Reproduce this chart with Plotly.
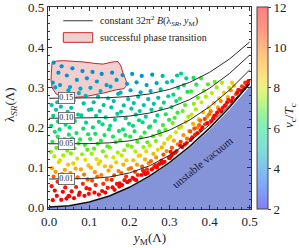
import plotly.graph_objects as go

SERIF = "Liberation Serif, DejaVu Serif, serif"

# ---------------- data ----------------
ym_grid = [0.0, 0.05, 0.10, 0.15, 0.20, 0.25, 0.30, 0.35, 0.40, 0.45, 0.50]
lam_B015 = [0.2720, 0.2721, 0.2723, 0.2735, 0.2765, 0.2829, 0.2941, 0.3116, 0.3368, 0.3703, 0.4127]
lam_B010 = [0.2220, 0.2221, 0.2224, 0.2238, 0.2274, 0.2350, 0.2482, 0.2685, 0.2970, 0.3341, 0.3799]
lam_B005 = [0.1581, 0.1581, 0.1586, 0.1605, 0.1654, 0.1754, 0.1923, 0.2173, 0.2508, 0.2927, 0.3428]
lam_B001 = [0.0700, 0.0701, 0.0711, 0.0751, 0.0851, 0.1029, 0.1293, 0.1637, 0.2057, 0.2546, 0.3102]
lam_edge = [0.0, 0.0031, 0.0123, 0.0277, 0.0493, 0.0771, 0.1110, 0.1510, 0.1973, 0.2497, 0.3083]
lam_vac = [0.0, 0.0030, 0.0120, 0.0271, 0.0482, 0.0753, 0.1084, 0.1475, 0.1926, 0.2438, 0.3010]

blob_ym = [0.0067, 0.0174, 0.0356, 0.0647, 0.0896, 0.1144, 0.1343, 0.1567, 0.1716, 0.1791, 0.1841,
           0.1915, 0.1940, 0.1866, 0.1642, 0.1393, 0.1144, 0.0896, 0.0597, 0.0348, 0.0174, 0.0075,
           0.0045, 0.0050, 0.0067]
blob_lam = [0.359, 0.365, 0.366, 0.365, 0.3625, 0.359, 0.3575, 0.3625, 0.364, 0.3525, 0.335,
            0.3175, 0.305, 0.296, 0.2925, 0.286, 0.281, 0.276, 0.274, 0.275, 0.2825, 0.2975,
            0.3175, 0.3425, 0.359]

contour_labels = ["0.15", "0.10", "0.05", "0.01"]
label_ym = 0.0436
label_lam = [0.272, 0.222, 0.158, 0.070]

cbar_ticks = [2, 4, 6, 8, 10, 12]

ym_pts = [
    0.011, 0.023, 0.009, 0.015, 0.020, 0.006, 0.017, 0.010, 0.022, 0.005, 0.014, 0.021, 0.008, 0.018, 0.004, 0.013, 0.024, 0.007, 0.016, 0.011, 0.021, 0.006, 0.014, 0.019, 0.009,
    0.031, 0.044, 0.027, 0.048, 0.036, 0.029, 0.046, 0.033, 0.041, 0.026, 0.049, 0.038, 0.030, 0.045, 0.035, 0.027, 0.047, 0.039, 0.032, 0.044, 0.028, 0.040, 0.034, 0.048, 0.030, 0.043,
    0.058, 0.069, 0.052, 0.074, 0.061, 0.055, 0.072, 0.064, 0.051, 0.068, 0.057, 0.073, 0.063, 0.054, 0.070, 0.060, 0.066, 0.053, 0.071, 0.059, 0.067, 0.056, 0.074, 0.062, 0.050,
    0.083, 0.094, 0.078, 0.091, 0.086, 0.099, 0.080, 0.092, 0.085, 0.097, 0.077, 0.089, 0.095, 0.082, 0.090, 0.098, 0.079, 0.087, 0.096, 0.084, 0.093, 0.076, 0.088, 0.099,
    0.108, 0.119, 0.103, 0.122, 0.111, 0.105, 0.117, 0.124, 0.109, 0.115, 0.102, 0.121, 0.112, 0.106, 0.118, 0.123, 0.104, 0.114, 0.120, 0.107, 0.116, 0.101, 0.113, 0.124,
    0.131, 0.143, 0.128, 0.147, 0.136, 0.126, 0.141, 0.133, 0.149, 0.138, 0.129, 0.145, 0.134, 0.142, 0.127, 0.139, 0.148, 0.130, 0.144, 0.135, 0.146, 0.132, 0.140,
    0.157, 0.168, 0.153, 0.172, 0.161, 0.155, 0.170, 0.164, 0.152, 0.174, 0.159, 0.166, 0.151, 0.171, 0.160, 0.167, 0.154, 0.173, 0.162, 0.156, 0.169, 0.158, 0.175, 0.163,
    0.183, 0.194, 0.178, 0.197, 0.186, 0.179, 0.191, 0.199, 0.184, 0.190, 0.177, 0.196, 0.187, 0.181, 0.193, 0.185, 0.198, 0.180, 0.192, 0.188, 0.176, 0.195, 0.182,
    0.207, 0.218, 0.203, 0.222, 0.211, 0.205, 0.216, 0.224, 0.209, 0.213, 0.202, 0.220, 0.206, 0.215, 0.223, 0.210, 0.219, 0.204, 0.214, 0.221, 0.208, 0.217, 0.212, 0.201,
    0.231, 0.243, 0.228, 0.247, 0.236, 0.226, 0.241, 0.233, 0.249, 0.238, 0.229, 0.245, 0.235, 0.242, 0.227, 0.239, 0.248, 0.232, 0.244, 0.237, 0.230, 0.246, 0.240, 0.234,
    0.257, 0.268, 0.253, 0.272, 0.261, 0.255, 0.270, 0.264, 0.252, 0.274, 0.259, 0.266, 0.251, 0.271, 0.260, 0.267, 0.254, 0.273, 0.262, 0.256, 0.269, 0.265,
    0.283, 0.294, 0.278, 0.297, 0.286, 0.279, 0.291, 0.299, 0.284, 0.290, 0.277, 0.296, 0.287, 0.281, 0.293, 0.285, 0.298, 0.280, 0.282, 0.288, 0.276,
    0.304, 0.309, 0.318, 0.306, 0.321, 0.311, 0.302, 0.316, 0.324, 0.308, 0.313, 0.320, 0.305, 0.317, 0.310, 0.322, 0.307, 0.301, 0.314, 0.303, 0.319,
    0.332, 0.338, 0.328, 0.344, 0.335, 0.349, 0.330, 0.341, 0.347, 0.333, 0.339, 0.326, 0.345, 0.336, 0.342, 0.327, 0.343, 0.329,
    0.353, 0.357, 0.364, 0.352, 0.369, 0.359, 0.373, 0.355, 0.366, 0.361, 0.371, 0.354, 0.367, 0.360, 0.370, 0.362, 0.374,
    0.378, 0.382, 0.389, 0.377, 0.394, 0.384, 0.398, 0.380, 0.391, 0.386, 0.396, 0.379, 0.395, 0.388, 0.399,
    0.404, 0.409, 0.416, 0.403, 0.421, 0.411, 0.424, 0.406, 0.418, 0.413, 0.419, 0.424, 0.412,
    0.429, 0.433, 0.441, 0.428, 0.446, 0.436, 0.449, 0.431, 0.444, 0.438, 0.447,
    0.454, 0.458, 0.466, 0.453, 0.461, 0.469, 0.472, 0.456,
    0.479, 0.486, 0.493, 0.481, 0.489, 0.497,
]
lam_pts = [
    0.361, 0.336, 0.311, 0.299, 0.262, 0.255, 0.243, 0.228, 0.214, 0.203, 0.188, 0.176, 0.163, 0.148, 0.138, 0.127, 0.112, 0.097, 0.088, 0.076, 0.063, 0.052, 0.041, 0.028, 0.017,
    0.352, 0.329, 0.305, 0.292, 0.270, 0.251, 0.238, 0.221, 0.206, 0.194, 0.181, 0.170, 0.156, 0.141, 0.129, 0.117, 0.106, 0.093, 0.082, 0.071, 0.060, 0.049, 0.038, 0.027, 0.018, 0.021,
    0.347, 0.318, 0.300, 0.285, 0.266, 0.248, 0.231, 0.215, 0.199, 0.185, 0.172, 0.159, 0.147, 0.134, 0.121, 0.109, 0.096, 0.085, 0.074, 0.062, 0.050, 0.039, 0.030, 0.022, 0.027,
    0.340, 0.322, 0.296, 0.278, 0.259, 0.243, 0.229, 0.211, 0.196, 0.182, 0.169, 0.155, 0.143, 0.132, 0.118, 0.104, 0.094, 0.081, 0.069, 0.058, 0.047, 0.036, 0.028, 0.033,
    0.338, 0.314, 0.298, 0.276, 0.262, 0.244, 0.228, 0.213, 0.199, 0.183, 0.170, 0.158, 0.146, 0.133, 0.120, 0.108, 0.098, 0.087, 0.076, 0.066, 0.055, 0.045, 0.036, 0.031,
    0.333, 0.305, 0.290, 0.272, 0.255, 0.240, 0.224, 0.207, 0.194, 0.180, 0.166, 0.152, 0.139, 0.127, 0.114, 0.102, 0.091, 0.080, 0.069, 0.058, 0.048, 0.040, 0.036,
    0.336, 0.318, 0.301, 0.283, 0.265, 0.249, 0.233, 0.218, 0.203, 0.190, 0.176, 0.162, 0.149, 0.136, 0.124, 0.112, 0.101, 0.090, 0.079, 0.068, 0.058, 0.049, 0.051, 0.043,
    0.330, 0.308, 0.286, 0.270, 0.254, 0.238, 0.222, 0.208, 0.194, 0.180, 0.167, 0.154, 0.142, 0.129, 0.117, 0.106, 0.095, 0.085, 0.076, 0.067, 0.059, 0.062, 0.055,
    0.333, 0.312, 0.292, 0.276, 0.260, 0.246, 0.231, 0.217, 0.203, 0.189, 0.176, 0.163, 0.151, 0.139, 0.128, 0.117, 0.106, 0.097, 0.088, 0.080, 0.073, 0.067, 0.070, 0.066,
    0.328, 0.305, 0.287, 0.270, 0.255, 0.240, 0.226, 0.212, 0.199, 0.186, 0.174, 0.162, 0.150, 0.139, 0.129, 0.119, 0.110, 0.101, 0.094, 0.087, 0.080, 0.085, 0.082, 0.091,
    0.331, 0.310, 0.290, 0.273, 0.258, 0.243, 0.229, 0.215, 0.202, 0.189, 0.177, 0.165, 0.154, 0.143, 0.133, 0.124, 0.115, 0.107, 0.100, 0.094, 0.099, 0.104,
    0.328, 0.312, 0.294, 0.277, 0.261, 0.246, 0.232, 0.218, 0.205, 0.193, 0.181, 0.170, 0.159, 0.149, 0.140, 0.131, 0.123, 0.116, 0.110, 0.113, 0.108,
    0.127, 0.133, 0.140, 0.148, 0.157, 0.166, 0.176, 0.187, 0.198, 0.210, 0.223, 0.236, 0.250, 0.265, 0.281, 0.298, 0.315, 0.122, 0.136, 0.138, 0.329,
    0.150, 0.156, 0.163, 0.171, 0.180, 0.190, 0.201, 0.213, 0.226, 0.240, 0.255, 0.271, 0.288, 0.305, 0.322, 0.153, 0.160, 0.334,
    0.168, 0.174, 0.181, 0.189, 0.198, 0.208, 0.219, 0.231, 0.244, 0.258, 0.273, 0.289, 0.306, 0.323, 0.185, 0.196, 0.205,
    0.192, 0.199, 0.207, 0.216, 0.226, 0.237, 0.249, 0.262, 0.276, 0.291, 0.307, 0.322, 0.210, 0.220, 0.232,
    0.215, 0.222, 0.230, 0.239, 0.249, 0.260, 0.272, 0.285, 0.299, 0.313, 0.236, 0.243, 0.228,
    0.240, 0.248, 0.256, 0.265, 0.275, 0.286, 0.298, 0.311, 0.262, 0.253, 0.268,
    0.265, 0.273, 0.282, 0.292, 0.303, 0.286, 0.293, 0.311,
    0.291, 0.298, 0.306, 0.302, 0.311, 0.315,
]
v_pts = [
    4.2, 4.3, 4.4, 4.5, 5.0, 5.1, 5.2, 5.6, 5.8, 5.9, 6.2, 6.4, 6.7, 7.1, 7.4, 7.8, 8.3, 9.0, 9.4, 10.2, 11.0, 11.6, 12, 12, 12,
    4.2, 4.3, 4.5, 4.6, 4.9, 5.1, 5.3, 5.6, 5.9, 6.0, 6.3, 6.5, 6.8, 7.3, 7.7, 8.1, 8.6, 9.2, 9.9, 10.5, 11.1, 11.7, 12, 12, 12, 12,
    4.2, 4.4, 4.6, 4.8, 5.0, 5.2, 5.5, 5.7, 6.0, 6.2, 6.4, 6.8, 7.0, 7.4, 8.0, 8.4, 9.1, 9.6, 10.1, 10.8, 11.5, 12, 12, 12, 12,
    4.2, 4.4, 4.6, 4.9, 5.1, 5.3, 5.5, 5.8, 6.1, 6.3, 6.5, 6.9, 7.1, 7.5, 8.0, 8.7, 9.2, 9.9, 10.4, 11.0, 11.6, 12, 12, 12,
    4.2, 4.4, 4.6, 4.9, 5.1, 5.3, 5.5, 5.8, 6.0, 6.3, 6.5, 6.8, 7.1, 7.5, 8.0, 8.4, 9.0, 9.5, 10.0, 10.6, 11.2, 11.8, 12, 12,
    4.2, 4.5, 4.7, 5.0, 5.2, 5.4, 5.6, 5.9, 6.1, 6.3, 6.6, 7.0, 7.3, 7.7, 8.2, 8.7, 9.3, 9.8, 10.4, 11.0, 11.6, 12, 12,
    4.2, 4.4, 4.6, 4.8, 5.0, 5.2, 5.5, 5.7, 6.0, 6.2, 6.4, 6.7, 7.1, 7.6, 8.0, 8.6, 9.0, 9.8, 10.4, 11.2, 11.8, 12, 12, 12,
    4.3, 4.5, 4.8, 5.0, 5.2, 5.4, 5.7, 5.9, 6.1, 6.4, 6.8, 7.1, 7.5, 7.9, 8.5, 9.0, 9.7, 10.3, 11.0, 11.7, 12, 12, 12,
    4.3, 4.4, 4.6, 4.9, 5.1, 5.3, 5.5, 5.8, 6.0, 6.3, 6.6, 6.9, 7.3, 7.8, 8.2, 8.8, 9.3, 10.0, 10.7, 11.2, 11.8, 12, 12, 12,
    4.3, 4.5, 4.7, 4.9, 5.2, 5.5, 5.7, 5.9, 6.2, 6.5, 6.8, 7.1, 7.5, 8.0, 8.5, 9.0, 9.7, 10.4, 11.0, 11.6, 12, 12, 12, 11.4,
    4.3, 4.5, 4.8, 5.0, 5.2, 5.5, 5.7, 6.0, 6.2, 6.5, 6.9, 7.3, 7.7, 8.3, 8.9, 9.5, 10.2, 11.0, 11.6, 12, 12, 11.6,
    4.9, 5.0, 5.3, 5.5, 5.7, 6.0, 6.3, 6.6, 6.8, 7.1, 7.5, 8.0, 8.5, 9.0, 9.6, 10.5, 11.3, 11.9, 12, 12, 12,
    12, 12, 11.6, 10.4, 9.9, 9.1, 8.5, 8.0, 7.6, 7.2, 6.9, 6.7, 6.4, 6.1, 5.9, 5.7, 5.4, 12, 12, 11.7, 5.3,
    12, 11.7, 10.9, 10.1, 9.5, 8.9, 8.4, 8.0, 7.6, 7.2, 7.0, 6.6, 6.3, 6.1, 5.8, 12, 11.5, 5.7,
    12, 12, 11.3, 10.4, 9.7, 9.1, 8.5, 8.1, 7.7, 7.4, 7.1, 6.8, 6.5, 6.3, 12, 10.6, 10.2,
    12, 12, 10.9, 10.1, 9.4, 8.8, 8.3, 8.0, 7.7, 7.3, 7.0, 6.8, 12, 10.8, 10.0,
    12, 11.9, 10.8, 9.9, 9.3, 8.7, 8.2, 7.8, 7.5, 7.2, 12, 11.2, 12,
    12, 11.7, 10.5, 9.7, 9.0, 8.4, 8.0, 7.7, 12, 12, 11.2,
    12, 11.8, 10.4, 9.5, 8.7, 12, 11.5, 8.3,
    12, 12, 12, 10.8, 11.0, 12,
]

# ---------------- styling ----------------
XR = [-0.003, 0.5035]
YR = [-0.005, 0.5003]
VMIN, VMAX = 2, 12

SAT = [
    (0.00, (0, 0, 230)), (0.10, (0, 68, 240)), (0.20, (0, 132, 220)), (0.25, (0, 160, 200)),
    (0.30, (0, 188, 176)), (0.35, (0, 204, 150)), (0.40, (0, 220, 120)), (0.45, (32, 230, 80)),
    (0.50, (80, 238, 32)), (0.55, (152, 240, 0)), (0.60, (212, 228, 0)), (0.65, (244, 204, 0)),
    (0.70, (255, 174, 0)), (0.75, (255, 144, 0)), (0.80, (255, 112, 0)), (0.85, (255, 76, 0)),
    (0.90, (255, 42, 0)), (1.00, (255, 0, 0)),
]
sat_scale = [[p, "rgb(%d,%d,%d)" % c] for p, c in SAT]
pastel_scale = [[p, "rgb(%d,%d,%d)" % tuple(int(round(0.5 * ch + 127.5)) for ch in c)] for p, c in SAT]

fig = go.Figure()

# unstable vacuum region
fig.add_trace(go.Scatter(
    x=ym_grid + [XR[1], XR[1], XR[0], XR[0]],
    y=lam_vac + [lam_vac[-1] + 0.004, YR[0], YR[0], lam_vac[0]],
    mode="lines", fill="toself", fillcolor="#8593d9",
    line=dict(width=0, color="#8593d9"), hoverinfo="skip"))

# successful phase transition region
fig.add_trace(go.Scatter(
    x=blob_ym, y=blob_lam, mode="lines", fill="toself",
    fillcolor="rgba(215,110,110,0.33)", line=dict(color="#c0282d", width=1),
    hoverinfo="skip"))

# scan points
fig.add_trace(go.Scatter(
    x=ym_pts, y=lam_pts, mode="markers",
    marker=dict(size=4.2, color=v_pts, colorscale=sat_scale, cmin=VMIN, cmax=VMAX,
                showscale=False, line=dict(width=0)),
    hoverinfo="skip"))

# contour lines
for lam in (lam_B015, lam_B010, lam_B005, lam_B001):
    fig.add_trace(go.Scatter(x=ym_grid, y=lam, mode="lines",
                             line=dict(color="#2a2a2a", width=1), hoverinfo="skip"))
fig.add_trace(go.Scatter(x=ym_grid, y=lam_edge, mode="lines",
                         line=dict(color="#111111", width=1.5), hoverinfo="skip"))

# colorbar (pastel) via dummy trace
fig.add_trace(go.Scatter(
    x=[None], y=[None], mode="markers",
    marker=dict(color=[VMIN, VMAX], colorscale=pastel_scale, cmin=VMIN, cmax=VMAX,
                showscale=True,
                colorbar=dict(x=1.0296, xanchor="left", y=0.5, yanchor="middle",
                              len=1.0, lenmode="fraction", thickness=11,
                              outlinewidth=1, outlinecolor="#444",
                              ticks="outside", ticklen=3, tickcolor="#444",
                              tickvals=cbar_ticks, ticktext=[str(t) for t in cbar_ticks],
                              tickfont=dict(family=SERIF, size=13, color="#222"),
                              ticklabeloverflow="allow",
                              xpad=0, ypad=0)),
    hoverinfo="skip"))

axis_common = dict(
    showgrid=False, zeroline=False, showline=True, linecolor="#333", linewidth=1.2,
    mirror="allticks", ticks="inside", ticklen=4, tickwidth=1, tickcolor="#333",
    dtick=0.1, tick0=0, tickformat=".1f", ticklabeloverflow="allow",
    tickfont=dict(family=SERIF, size=13, color="#222"),
    minor=dict(dtick=0.02, tick0=0, ticks="inside", ticklen=2, tickcolor="#333", showgrid=False),
)
fig.update_xaxes(range=XR, **axis_common)
fig.update_yaxes(range=YR, **axis_common)

ann = []
for txt, lam in zip(contour_labels, label_lam):
    ann.append(dict(x=label_ym, y=lam, xref="x", yref="y", text=txt, showarrow=False,
                    xanchor="center", yanchor="middle",
                    font=dict(family=SERIF, size=8, color="#222"),
                    bgcolor="white", bordercolor="#555", borderwidth=0.8, borderpad=0.5))
ann.append(dict(x=0.383, y=0.1125, xref="x", yref="y", text="unstable vacuum", showarrow=False,
                xanchor="center", yanchor="middle",
                textangle=-39, font=dict(family=SERIF, size=11, color="#1c1c3c")))
ann.append(dict(x=0.4975, y=-0.1485, xref="paper", yref="paper",
                xanchor="center", yanchor="middle",
                text="<i>y</i><sub>M</sub>(Λ)", showarrow=False,
                font=dict(family=SERIF, size=13, color="#222")))
ann.append(dict(x=-0.182, y=0.515, xref="paper", yref="paper", textangle=-90,
                xanchor="center", yanchor="middle",
                text="λ<sub><i>SR</i></sub>(Λ)", showarrow=False,
                font=dict(family=SERIF, size=13, color="#222")))
ann.append(dict(x=1.187, y=0.465, xref="paper", yref="paper", textangle=-90,
                xanchor="center", yanchor="middle",
                text="<i>v</i><sub>c</sub>/<i>T</i><sub>c</sub>", showarrow=False,
                font=dict(family=SERIF, size=13, color="#222")))
# legend text
ann.append(dict(x=0.2448, y=0.9322, xref="paper", yref="paper", xanchor="left", yanchor="middle",
                text="constant 32π<sup>2</sup> <i>B</i>(λ<sub><i>SR</i></sub>, <i>y</i><sub>M</sub>)",
                showarrow=False, font=dict(family=SERIF, size=10, color="#222")))
ann.append(dict(x=0.2448, y=0.85, xref="paper", yref="paper", xanchor="left", yanchor="middle",
                text="successful phase transition",
                showarrow=False, font=dict(family=SERIF, size=10, color="#222")))

shapes = [
    dict(type="line", xref="paper", yref="paper", x0=0.0754, x1=0.2202, y0=0.9322, y1=0.9322,
         line=dict(color="#555", width=1.2)),
    dict(type="rect", xref="paper", yref="paper", x0=0.0754, x1=0.2202, y0=0.8252, y1=0.8728,
         fillcolor="rgba(215,110,110,0.33)", line=dict(color="#c0282d", width=1)),
]

fig.update_layout(
    width=299, height=248, margin=dict(l=48, r=48, t=7, b=39, autoexpand=False),
    paper_bgcolor="white", plot_bgcolor="white", showlegend=False,
    font=dict(family=SERIF, size=13, color="#222"),
    annotations=ann, shapes=shapes,
)

fig.write_html("out.html", config={"displayModeBar": False},
               post_script="document.body.style.margin='0px';document.body.style.overflow='hidden';")
